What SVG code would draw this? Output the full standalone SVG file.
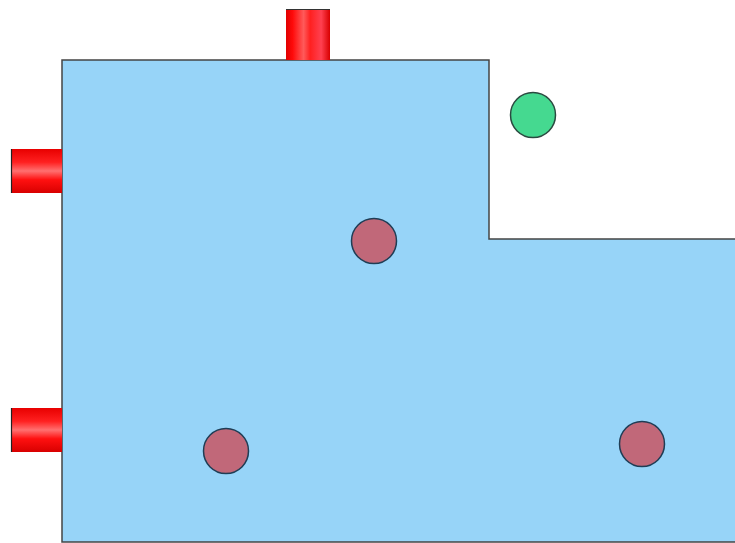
<svg xmlns="http://www.w3.org/2000/svg" width="735" height="543" viewBox="0 0 735 543">
<defs>
<linearGradient id="gv" x1="0" y1="0" x2="1" y2="0">
<stop offset="0" stop-color="#e00000"/>
<stop offset="0.15" stop-color="#ff0a0a"/>
<stop offset="0.4" stop-color="#ff5a5a"/>
<stop offset="0.55" stop-color="#ff2020"/>
<stop offset="0.8" stop-color="#ff4050"/>
<stop offset="1" stop-color="#d80000"/>
</linearGradient>
<linearGradient id="gh" x1="0" y1="0" x2="0" y2="1">
<stop offset="0" stop-color="#e80000"/>
<stop offset="0.3" stop-color="#ff2020"/>
<stop offset="0.5" stop-color="#ff7070"/>
<stop offset="0.7" stop-color="#ff1010"/>
<stop offset="1" stop-color="#d80000"/>
</linearGradient>
<style>
.room{fill:#97d4f8;stroke:#444;stroke-width:1.5}
.pipe{stroke:none}
.red{fill:#c16879;stroke:#1f3d55;stroke-width:1.5}
.green{fill:#45d990;stroke:#2a4a40;stroke-width:1.5}
</style>
</defs>
<g id="room"><polygon class="room" points="62,60 489,60 489,239 736,239 736,542 62,542"/></g>
<g id="pipe-top"><rect class="pipe" x="286" y="9" width="44" height="51" fill="url(#gv)"/><line x1="286" y1="9.5" x2="330" y2="9.5" stroke="#333" stroke-width="1"/></g>
<g id="pipe-left1"><rect class="pipe" x="11" y="149" width="51" height="44" fill="url(#gh)"/><line x1="11.5" y1="149" x2="11.5" y2="193" stroke="#222" stroke-width="1.2"/></g>
<g id="pipe-left2"><rect class="pipe" x="11" y="408" width="51" height="44" fill="url(#gh)"/><line x1="11.5" y1="408" x2="11.5" y2="452" stroke="#222" stroke-width="1.2"/></g>
<g id="green"><circle class="green" cx="533" cy="115" r="22.5"/></g>
<g id="red1"><circle class="red" cx="374" cy="241" r="22.5"/></g>
<g id="red2"><circle class="red" cx="226" cy="451" r="22.5"/></g>
<g id="red3"><circle class="red" cx="642" cy="444" r="22.5"/></g>
<g id="connectors"/>
</svg>
